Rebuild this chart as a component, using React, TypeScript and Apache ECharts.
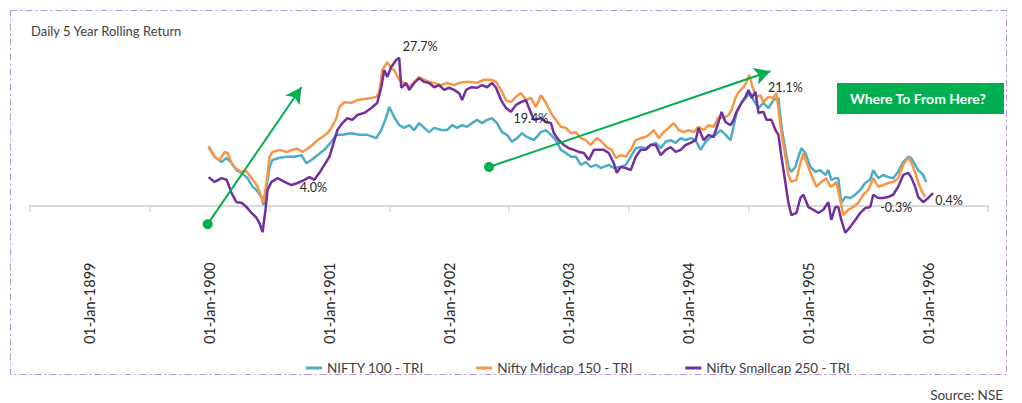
import React, { useEffect, useRef } from "react";
import * as echarts from "echarts";

const FONT = "Lato, 'Open Sans', sans-serif";

const xTickLabels = [
  "01-Jan-1899", "01-Jan-1900", "01-Jan-1901", "01-Jan-1902",
  "01-Jan-1903", "01-Jan-1904", "01-Jan-1905", "01-Jan-1906",
];

const seriesNames = ["NIFTY 100 - TRI", "Nifty Midcap 150 - TRI", "Nifty Smallcap 250 - TRI"];
const seriesColors = ["#4bacc6", "#f79646", "#7030a0"];

// x = months from the first axis boundary, y = 5-year rolling return (%)
const nifty100: [number, number][] = [
  [17.9, 11.0], [18.5, 9.2], [19.2, 8.2], [19.7, 9.0], [20.2, 8.0], [20.7, 6.7], [21.2, 6.2],
  [21.8, 5.2], [22.3, 3.6], [22.7, 3.0], [23.2, 1.7], [23.4, 0.2], [23.7, 3.6], [24.0, 7.3],
  [24.3, 8.6], [25.0, 9.0], [25.7, 9.2], [26.5, 9.2], [27.2, 9.5], [27.7, 8.0], [28.2, 8.6],
  [28.8, 9.5], [29.5, 10.5], [30.2, 12.0], [30.7, 13.3], [31.3, 13.3], [32.2, 13.6], [33.0, 13.3],
  [33.8, 13.3], [34.7, 12.7], [35.2, 14.2], [35.7, 16.6], [36.0, 18.5], [36.5, 16.6], [37.0, 15.1],
  [37.5, 14.6], [38.0, 15.1], [38.5, 14.2], [39.0, 15.5], [39.5, 14.6], [40.0, 13.8], [40.5, 14.6],
  [41.2, 14.2], [41.8, 14.2], [42.3, 15.1], [42.8, 14.6], [43.3, 15.1], [43.8, 14.8], [44.3, 15.5],
  [44.8, 16.1], [45.3, 15.5], [45.8, 16.1], [46.3, 16.4], [46.8, 15.5], [47.3, 13.8], [47.8, 13.3],
  [48.3, 12.0], [48.8, 12.7], [49.3, 13.6], [49.8, 12.9], [50.5, 12.3], [51.2, 13.8], [51.7, 14.2],
  [52.2, 13.3], [52.7, 12.3], [53.2, 10.5], [53.7, 9.9], [54.2, 9.2], [54.7, 9.2], [55.2, 7.7],
  [55.7, 8.2], [56.2, 7.3], [56.7, 7.7], [57.2, 7.1], [57.5, 7.3], [58.0, 7.7], [58.5, 7.1],
  [59.2, 7.3], [59.7, 7.7], [60.2, 9.2], [60.7, 10.8], [61.2, 11.0], [61.7, 10.8], [62.2, 11.4],
  [62.7, 11.8], [63.2, 10.8], [63.7, 12.0], [64.2, 12.3], [64.7, 11.8], [65.2, 12.7], [65.7, 12.3],
  [66.2, 12.7], [66.7, 12.3], [67.2, 10.5], [67.7, 12.0], [68.2, 12.9], [68.7, 13.3], [69.2, 14.2],
  [69.7, 13.3], [70.2, 12.3], [70.5, 14.8], [70.8, 17.4], [71.3, 19.3], [71.8, 20.4], [72.2, 21.1],
  [72.5, 19.8], [73.0, 18.3], [73.5, 19.3], [74.0, 18.3], [74.5, 19.8], [75.0, 20.2], [75.3, 14.8],
  [75.7, 10.5], [76.0, 7.3], [76.3, 6.4], [76.7, 7.3], [77.0, 9.2], [77.3, 10.8], [77.7, 9.9],
  [78.2, 7.3], [78.7, 6.4], [79.2, 6.7], [79.7, 5.8], [80.0, 6.7], [80.3, 4.9], [80.7, 5.2],
  [81.0, 5.2], [81.3, 0.6], [81.7, 1.7], [82.2, 1.5], [82.7, 2.1], [83.2, 3.0], [83.7, 4.3],
  [84.2, 4.9], [84.5, 6.7], [85.0, 5.2], [85.5, 5.8], [86.0, 5.4], [86.5, 5.2], [87.0, 6.4],
  [87.5, 8.2], [88.0, 9.2], [88.3, 9.0], [88.7, 7.7], [89.0, 6.7], [89.5, 5.8], [89.8, 4.5],
];

const midcap150: [number, number][] = [
  [17.9, 11.2], [18.5, 9.2], [19.0, 8.6], [19.5, 10.1], [19.8, 9.9], [20.2, 8.0], [20.7, 6.9],
  [21.2, 6.4], [21.7, 6.5], [22.2, 5.2], [22.5, 4.5], [22.8, 3.6], [23.2, 1.7], [23.4, 0.7],
  [23.7, 4.3], [24.0, 9.2], [24.3, 10.1], [25.0, 10.5], [25.7, 10.1], [26.3, 10.5], [26.8, 10.7],
  [27.3, 10.1], [27.8, 10.7], [28.3, 11.4], [28.8, 12.3], [29.3, 12.9], [29.8, 13.6], [30.2, 14.6],
  [30.7, 16.4], [31.0, 18.5], [31.5, 19.4], [32.2, 19.3], [32.8, 19.8], [33.5, 20.0], [34.2, 20.2],
  [34.7, 20.4], [35.0, 21.3], [35.3, 25.4], [35.8, 26.9], [36.2, 25.8], [36.5, 25.4], [37.0, 23.6],
  [37.5, 23.0], [38.0, 22.2], [38.5, 23.2], [39.0, 24.1], [39.5, 23.6], [40.0, 23.2], [40.5, 23.0],
  [41.2, 22.6], [41.8, 23.0], [42.5, 22.6], [43.0, 23.0], [43.5, 23.2], [44.2, 23.2], [44.8, 23.0],
  [45.5, 23.6], [46.2, 23.6], [46.7, 23.2], [47.2, 21.7], [47.7, 19.8], [48.2, 19.4], [48.7, 20.4],
  [49.2, 21.1], [49.7, 19.8], [50.2, 20.2], [50.7, 18.5], [51.2, 20.7], [51.7, 19.3], [52.2, 17.4],
  [52.7, 16.1], [53.2, 14.8], [53.7, 14.6], [54.2, 13.6], [54.7, 13.8], [55.2, 12.7], [55.7, 12.3],
  [56.2, 11.4], [56.8, 12.7], [57.3, 12.0], [57.8, 11.0], [58.3, 10.5], [58.7, 9.0], [59.2, 9.5],
  [59.7, 9.2], [60.2, 10.5], [60.7, 12.3], [61.2, 12.7], [61.7, 12.9], [62.2, 13.6], [62.5, 14.2],
  [63.0, 12.7], [63.5, 13.8], [64.0, 14.6], [64.5, 15.5], [65.0, 14.2], [65.5, 13.8], [66.0, 14.2],
  [66.5, 13.8], [67.0, 14.8], [67.5, 14.2], [68.0, 15.1], [68.5, 14.8], [69.0, 16.6], [69.5, 16.4],
  [70.0, 17.0], [70.3, 17.9], [70.7, 20.2], [71.0, 21.3], [71.5, 22.2], [71.8, 23.2], [72.1, 24.5],
  [72.4, 22.2], [72.8, 20.4], [73.2, 20.7], [73.5, 19.4], [74.0, 20.4], [74.5, 20.2], [74.8, 21.1],
  [75.3, 13.6], [75.7, 9.2], [76.0, 5.8], [76.3, 4.5], [76.8, 4.9], [77.2, 8.0], [77.5, 9.9],
  [77.8, 8.2], [78.3, 5.8], [78.8, 3.6], [79.3, 4.5], [79.8, 5.2], [80.2, 3.6], [80.5, 3.9],
  [80.8, 4.5], [81.2, 1.1], [81.5, -1.7], [82.0, -0.7], [82.5, -0.2], [83.0, 0.6], [83.5, 2.1],
  [84.0, 3.0], [84.5, 5.2], [85.0, 3.6], [85.5, 3.9], [86.0, 4.3], [86.5, 4.5], [87.0, 5.2],
  [87.5, 7.7], [88.0, 9.0], [88.3, 8.2], [88.7, 6.2], [89.0, 4.5], [89.3, 3.0], [89.7, 1.7],
];

const smallcap250: [number, number][] = [
  [17.9, 5.4], [18.5, 4.5], [19.2, 5.2], [19.7, 4.9], [20.2, 2.4], [20.7, 0.7], [21.2, 0.6],
  [21.7, -0.2], [22.2, -1.3], [22.7, -2.2], [23.0, -3.2], [23.3, -4.9], [23.6, -0.7], [23.8, 3.0],
  [24.2, 4.5], [24.8, 5.2], [25.5, 4.5], [26.2, 3.9], [26.8, 4.3], [27.5, 4.9], [28.0, 5.4],
  [28.5, 4.9], [29.0, 6.2], [29.5, 7.7], [30.0, 9.2], [30.3, 11.0], [30.8, 14.2], [31.3, 15.5],
  [31.8, 16.4], [32.3, 16.1], [32.8, 17.0], [33.5, 17.4], [34.2, 18.3], [34.8, 19.3], [35.2, 22.2],
  [35.5, 25.4], [35.8, 24.1], [36.2, 26.0], [36.7, 27.3], [37.0, 27.7], [37.2, 22.1], [37.7, 23.0],
  [38.0, 21.7], [38.5, 23.0], [39.0, 23.9], [39.5, 23.2], [40.0, 23.0], [40.5, 22.2], [41.0, 22.6],
  [41.5, 21.7], [42.0, 22.1], [42.5, 21.7], [43.0, 21.1], [43.3, 19.8], [43.7, 21.7], [44.2, 22.2],
  [44.8, 22.1], [45.3, 22.6], [45.8, 22.2], [46.3, 23.0], [46.7, 22.1], [47.2, 19.8], [47.7, 18.3],
  [48.2, 17.6], [48.7, 18.9], [49.2, 19.4], [49.7, 19.8], [50.0, 18.3], [50.5, 16.1], [51.2, 16.4],
  [51.7, 15.7], [52.2, 15.5], [52.5, 13.6], [53.0, 12.3], [53.5, 11.4], [54.0, 10.8], [54.5, 10.5],
  [55.0, 10.1], [55.5, 9.9], [56.0, 8.6], [56.5, 10.5], [57.0, 10.5], [57.5, 10.5], [58.0, 9.9],
  [58.5, 8.0], [58.8, 6.2], [59.2, 7.3], [59.7, 7.1], [60.2, 6.7], [60.7, 9.2], [61.2, 10.5],
  [61.7, 10.5], [62.2, 11.4], [62.7, 11.4], [63.2, 9.5], [63.7, 10.5], [64.2, 11.0], [64.7, 10.1],
  [65.2, 10.5], [65.7, 11.4], [66.2, 11.8], [66.7, 12.3], [67.0, 14.6], [67.5, 12.3], [68.0, 13.3],
  [68.5, 12.9], [69.0, 15.7], [69.3, 17.6], [69.7, 15.7], [70.2, 15.1], [70.5, 16.1], [70.8, 17.6],
  [71.3, 19.3], [71.7, 20.4], [72.0, 21.7], [72.3, 20.2], [72.7, 21.3], [73.0, 17.4], [73.5, 17.6],
  [73.8, 16.1], [74.3, 16.1], [74.7, 14.2], [75.0, 13.3], [75.3, 9.2], [75.7, 4.3], [76.0, 0.6],
  [76.3, -1.7], [76.8, -1.3], [77.2, 1.5], [77.5, 2.1], [78.0, -0.2], [78.5, -0.7], [79.0, -1.3],
  [79.5, -0.7], [80.0, 0.7], [80.3, -2.6], [80.7, -0.2], [81.0, -0.2], [81.3, -2.6], [81.7, -5.0],
  [82.2, -3.9], [82.7, -2.6], [83.2, -1.3], [83.7, -0.4], [84.2, -0.2], [84.5, 2.1], [85.0, 1.5],
  [85.5, 1.5], [86.0, 1.7], [86.5, 2.1], [87.0, 3.6], [87.5, 5.8], [88.0, 6.2], [88.3, 5.4],
  [88.7, 3.6], [89.0, 1.7], [89.5, 0.7], [90.0, 1.5], [90.5, 2.4],
];

const pointLabels: { text: string; coord: [number, number] }[] = [
  { text: "27.7%", coord: [39.1, 29.9] },
  { text: "4.0%", coord: [28.4, 3.55] },
  { text: "19.4%", coord: [50.2, 16.4] },
  { text: "21.1%", coord: [75.7, 22.1] },
  { text: "-0.3%", coord: [86.8, -0.2] },
  { text: "0.4%", coord: [92.1, 1.1] },
];

const trendArrows: [[number, number], [number, number]][] = [
  [[17.8, -3.4], [27.2, 22.2]],
  [[46.0, 7.3], [74.2, 25.2]],
];

export default function App() {
  const ref = useRef<HTMLDivElement>(null);

  useEffect(() => {
    document.body.style.margin = "0";
    if (!ref.current) return;
    const chart = echarts.init(ref.current, undefined, { renderer: "svg" });

    const allData = [nifty100, midcap150, smallcap250];

    const series: any[] = allData.map((d, i) => ({
      name: seriesNames[i],
      type: "line",
      data: d,
      xAxisIndex: 0,
      showSymbol: false,
      symbol: "none",
      smooth: false,
      clip: false,
      lineStyle: { width: 2.5, color: seriesColors[i] },
      itemStyle: { color: seriesColors[i] },
      z: 2 + i,
    }));

    series[0].markLine = {
      silent: true,
      animation: false,
      label: { show: false },
      lineStyle: { color: "#00b050", width: 2, type: "solid" },
      emphasis: { disabled: true },
      data: trendArrows.map(([a, b]) => [
        { coord: a, symbol: "circle", symbolSize: 10 },
        { coord: b, symbol: "arrow", symbolSize: [13, 16] },
      ]),
    };
    series[2].markPoint = {
      silent: true,
      animation: false,
      symbol: "circle",
      symbolSize: 0,
      data: pointLabels.map((p) => ({
        coord: p.coord,
        value: p.text,
        label: {
          show: true,
          position: "inside",
          formatter: p.text,
          color: "#262626",
          fontSize: 12.5,
          fontFamily: FONT,
        },
      })),
    };

    chart.setOption({
      animation: false,
      backgroundColor: "#ffffff",
      textStyle: { fontFamily: FONT },
      title: [
        {
          text: "Daily 5 Year Rolling Return",
          left: 26,
          top: 19,
          textStyle: { fontSize: 13, fontWeight: "normal", color: "#404040", fontFamily: FONT },
        },
        {
          text: "Source: NSE",
          right: 14,
          top: 383,
          textStyle: { fontSize: 13.5, fontWeight: "normal", color: "#404040", fontFamily: FONT },
        },
      ],
      legend: {
        left: 301,
        top: 356,
        icon: "rect",
        itemWidth: 16,
        itemHeight: 3,
        itemGap: 52,
        textStyle: { fontSize: 13.5, color: "#404040", fontFamily: FONT },
        data: seriesNames,
      },
      grid: { left: 30, right: 34, top: 45.5, height: 214, containLabel: false },
      xAxis: [
        {
          type: "value",
          min: 0,
          max: 96,
          interval: 12,
          position: "bottom",
          axisLine: { show: true, onZero: true, lineStyle: { color: "#d9d9d9", width: 2 } },
          axisTick: { show: true, length: 6, lineStyle: { color: "#d9d9d9", width: 1.5 } },
          axisLabel: { show: false },
          splitLine: { show: false },
        },
        {
          type: "category",
          data: xTickLabels,
          position: "bottom",
          boundaryGap: true,
          axisLine: { show: false, onZero: false },
          axisTick: { show: false },
          splitLine: { show: false },
          axisLabel: {
            interval: 0,
            rotate: 90,
            margin: 3,
            fontSize: 14.5,
            color: "#262626",
            fontFamily: FONT,
          },
        },
      ],
      yAxis: {
        type: "value",
        min: -10,
        max: 30,
        show: false,
        splitLine: { show: false },
      },
      series,
      graphic: [
        {
          type: "rect",
          shape: { x: 10.5, y: 10.5, width: 996, height: 364 },
          style: { fill: "none", stroke: "#b893dd", lineWidth: 1, lineDash: [7, 3, 2, 3] },
          silent: true,
        },
        {
          type: "rect",
          shape: { x: 837, y: 83, width: 167, height: 31 },
          style: { fill: "#00b050" },
          silent: true,
        },
        {
          type: "text",
          x: 918,
          y: 98.5,
          style: {
            text: "Where To From Here?",
            fill: "#ffffff",
            font: `bold 14px ${FONT}`,
            align: "center",
            verticalAlign: "middle",
          },
          silent: true,
        },
      ],
    });

    return () => chart.dispose();
  }, []);

  return <div ref={ref} style={{ width: 1022, height: 403 }} />;
}
